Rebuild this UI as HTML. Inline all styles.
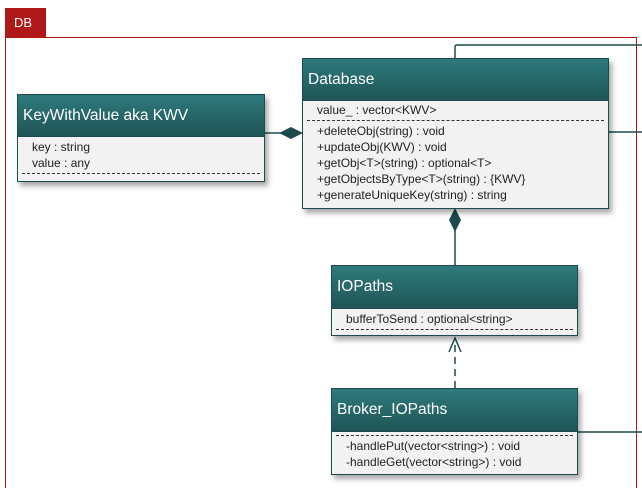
<!DOCTYPE html>
<html style="height:488px;overflow:hidden"><head><style>
body{margin:0;width:642px;height:488px;overflow:hidden;background:#fff;font-family:"Liberation Sans",sans-serif;position:relative}
.tab{position:absolute;left:5px;top:8px;width:41px;height:29px;background:#b01818;color:#fff;font-size:13px;box-sizing:border-box;padding:7px 0 0 9px}
.frame{position:absolute;left:5px;top:37px;width:632px;height:451px;border:1px solid #b01818;border-bottom:none;box-sizing:border-box}
.box{position:absolute;border:1.5px solid #1d4a4c;box-sizing:border-box;background:#f2f2f2;box-shadow:3px 4px 5px rgba(0,0,0,.35)}
.hd{background:linear-gradient(#2f7a7c,#1f5557);color:#fff;font-size:15.5px;box-sizing:border-box;padding-left:5px;display:flex;align-items:center;border-bottom:1.5px solid #1d4a4c}
.bd{font-size:12px;color:#222;padding-left:14px;line-height:16px}
.dash{border-top:1px dashed #333;margin:2px 4px 2px 4px}
svg{position:absolute;left:0;top:0}
</style></head><body>
<div class="tab">DB</div>
<div class="frame"></div>
<svg width="642" height="488">
<g stroke="#1d4a4c" stroke-width="1.5" fill="none">
<path d="M455 58 V47 Q455 45 457 45 H642"/>
<path d="M608 132 H642"/>
<path d="M577 432 H642"/>
<path d="M264 133 H282"/>
<path d="M455 230 V265"/>
<path d="M455 388 V342" stroke-dasharray="7,5"/>
<path d="M449 352 L455 338 L461 352"/>
</g>
<polygon points="279,133 291,127 303,133 291,139" fill="#1d4a4c"/>
<polygon points="455,208 461,220 455,232 449,220" fill="#1d4a4c"/>
</svg>
<div class="box" style="left:17px;top:94px;width:248px;height:88px">
<div class="hd" style="height:42px">KeyWithValue aka KWV</div>
<div class="bd" style="padding-top:2px">key : string<br>value : any</div>
<div class="dash"></div>
</div>
<div class="box" style="left:302px;top:58px;width:307px;height:151px">
<div class="hd" style="height:42px">Database</div>
<div class="bd" style="padding-top:1px">value_ : vector&lt;KWV&gt;</div>
<div class="dash"></div>
<div class="bd">+deleteObj(string) : void<br>+updateObj(KWV) : void<br>+getObj&lt;T&gt;(string) : optional&lt;T&gt;<br>+getObjectsByType&lt;T&gt;(string) : {KWV}<br>+generateUniqueKey(string) : string</div>
</div>
<div class="box" style="left:331px;top:265px;width:247px;height:71px">
<div class="hd" style="height:43px">IOPaths</div>
<div class="bd" style="padding-top:2px">bufferToSend : optional&lt;string&gt;</div>
<div class="dash"></div>
</div>
<div class="box" style="left:331px;top:388px;width:247px;height:87px">
<div class="hd" style="height:43px">Broker_IOPaths</div>
<div class="dash" style="margin-top:3px"></div>
<div class="bd">-handlePut(vector&lt;string&gt;) : void<br>-handleGet(vector&lt;string&gt;) : void</div>
</div>
</body></html>
